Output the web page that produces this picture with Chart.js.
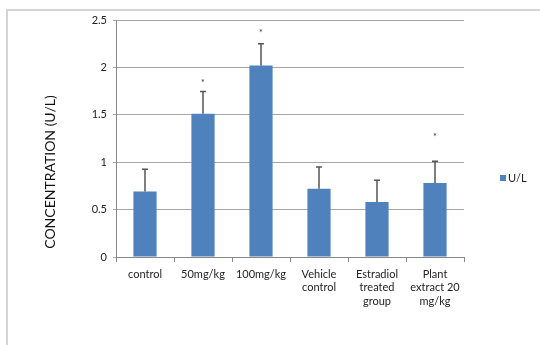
<!DOCTYPE html>
<html>
<head>
<meta charset="utf-8">
<script src="https://cdn.jsdelivr.net/npm/chart.js@4/dist/chart.umd.min.js"></script>
<style>
  html, body { margin: 0; padding: 0; background: #fff; }
  #wrap { position: relative; width: 540px; height: 345px; overflow: hidden; }
  #frame { position: absolute; left: 6px; top: 9px; width: 600px; height: 400px; border: 2px solid #d4d4d4; }
  #chart { position: absolute; left: 0; top: 0; }
</style>
</head>
<body>
<div id="wrap">
  <div id="frame"></div>
  <canvas id="chart" width="540" height="345"></canvas>
</div>
<script>
// groups on the x axis
const categories = [
  'control',
  '50mg/kg',
  '100mg/kg',
  ['Vehicle', 'control'],
  ['Estradiol', 'treated', 'group'],
  ['Plant', 'extract 20', 'mg/kg']
];
const values = [0.69, 1.51, 2.02, 0.72, 0.58, 0.78];
const errors = [0.235, 0.235, 0.23, 0.23, 0.23, 0.23];
// height of the significance mark (null = none)
const starAt = [null, 1.86, 2.38, null, null, 1.29];
const yTicks = [0, 0.5, 1, 1.5, 2, 2.5];

const FONT = 'Lato, "Open Sans", sans-serif';

const errorBars = {
  id: 'errorBars',
  afterDatasetsDraw(chart) {
    const ctx = chart.ctx;
    const y = chart.scales.y;
    const meta = chart.getDatasetMeta(0);
    ctx.save();
    meta.data.forEach((bar, i) => {
      const x = bar.x;
      const top = y.getPixelForValue(values[i] + errors[i]);
      const base = y.getPixelForValue(values[i]);
      ctx.strokeStyle = '#555';
      ctx.lineWidth = 1.5;
      ctx.beginPath();
      ctx.moveTo(x, base);
      ctx.lineTo(x, top);
      ctx.moveTo(x - 3, top);
      ctx.lineTo(x + 3, top);
      ctx.stroke();
      if (starAt[i] != null) {
        ctx.fillStyle = '#333';
        ctx.font = '9px ' + FONT;
        ctx.textAlign = 'center';
        ctx.textBaseline = 'middle';
        ctx.fillText('*', x, y.getPixelForValue(starAt[i]) + 2);
      }
    });
    ctx.restore();
  }
};

const extras = {
  id: 'extras',
  afterDraw(chart) {
    const ctx = chart.ctx;
    ctx.save();
    // y title
    ctx.translate(50, 172);
    ctx.rotate(-Math.PI / 2);
    ctx.fillStyle = '#111';
    ctx.font = '14px ' + FONT;
    ctx.textAlign = 'center';
    ctx.textBaseline = 'middle';
    ctx.fillText('CONCENTRATION (U/L)', 0, 0);
    ctx.restore();
    // legend
    ctx.save();
    ctx.fillStyle = '#4F81BD';
    ctx.fillRect(500, 175, 6, 6);
    ctx.fillStyle = '#222';
    ctx.font = '11px ' + FONT;
    ctx.textBaseline = 'middle';
    ctx.fillText('U/L', 508, 178.5);
    ctx.restore();
  }
};

new Chart(document.getElementById('chart'), {
  type: 'bar',
  data: {
    labels: categories,
    datasets: [{
      label: 'U/L',
      data: values,
      backgroundColor: '#4F81BD',
      borderWidth: 0,
      categoryPercentage: 1,
      barPercentage: 0.4
    }]
  },
  options: {
    responsive: false,
    animation: false,
    layout: { padding: { top: 20, right: 76, left: 0, bottom: 0 } },
    plugins: { legend: { display: false }, tooltip: { enabled: false } },
    scales: {
      x: {
        afterFit: s => { s.height = 88; },
        grid: { display: true, drawOnChartArea: false, offset: true, tickLength: 5, color: '#888' },
        border: { color: '#888', width: 1 },
        ticks: { color: '#222', font: { family: FONT, size: 11 }, padding: 6, maxRotation: 0, autoSkip: false }
      },
      y: {
        min: 0,
        max: 2.5,
        afterFit: s => { s.width = 116; },
        afterBuildTicks: s => { s.ticks = yTicks.map(v => ({ value: v })); },
        grid: { color: '#a6a6a6', lineWidth: 1, tickLength: 3 },
        border: { color: '#888', width: 1 },
        ticks: { color: '#222', font: { family: FONT, size: 11 }, padding: 6, callback: v => String(v) }
      }
    }
  },
  plugins: [errorBars, extras]
});
</script>
</body>
</html>
